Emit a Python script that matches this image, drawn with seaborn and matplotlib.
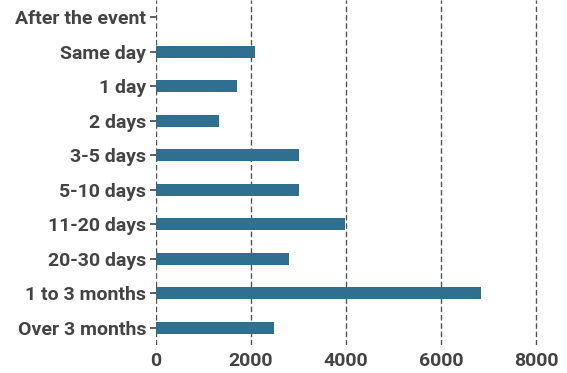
import matplotlib
matplotlib.use("Agg")
import matplotlib.pyplot as plt
import seaborn as sns
import pandas as pd

# Time between the event and the report
periods = ["After the event", "Same day", "1 day", "2 days", "3-5 days",
           "5-10 days", "11-20 days", "20-30 days", "1 to 3 months", "Over 3 months"]
counts = [0, 2080, 1710, 1320, 3000, 3000, 3970, 2790, 6840, 2480]
x_ticks = [0, 2000, 4000, 6000, 8000]

df = pd.DataFrame({"period": periods, "count": counts})

sns.set_theme(style="white")
plt.rcParams["font.family"] = ["Roboto", "DejaVu Sans"]

text_color = "#444444"
bar_color = "#2f7090"

fig = plt.figure(figsize=(5.67, 3.73), dpi=100)
ax = fig.add_axes([156 / 567, 28 / 373, (555 - 156) / 567, 345 / 373])

sns.barplot(data=df, x="count", y="period", orient="h", color=bar_color,
            width=0.34, linewidth=0, saturation=1, ax=ax, zorder=3)

ax.set_xlim(0, 8400)
ax.set_ylim(9.5, -0.5)
ax.set_xticks(x_ticks)
ax.set_xticklabels([str(t) for t in x_ticks])
ax.set_xlabel("")
ax.set_ylabel("")

ax.set_axisbelow(True)
ax.grid(axis="x", linestyle=(0, (4, 2)), color="#555555", linewidth=1.0)
ax.grid(axis="y", visible=False)
for s in ax.spines.values():
    s.set_visible(False)

ax.tick_params(axis="y", left=True, length=4, width=1.2, color=text_color,
               pad=3, labelsize=14, labelcolor=text_color)
ax.tick_params(axis="x", bottom=False, pad=-1, labelsize=14, labelcolor=text_color)
for lbl in ax.get_yticklabels() + ax.get_xticklabels():
    lbl.set_fontweight("bold")

fig.savefig("out.png", dpi=100)
